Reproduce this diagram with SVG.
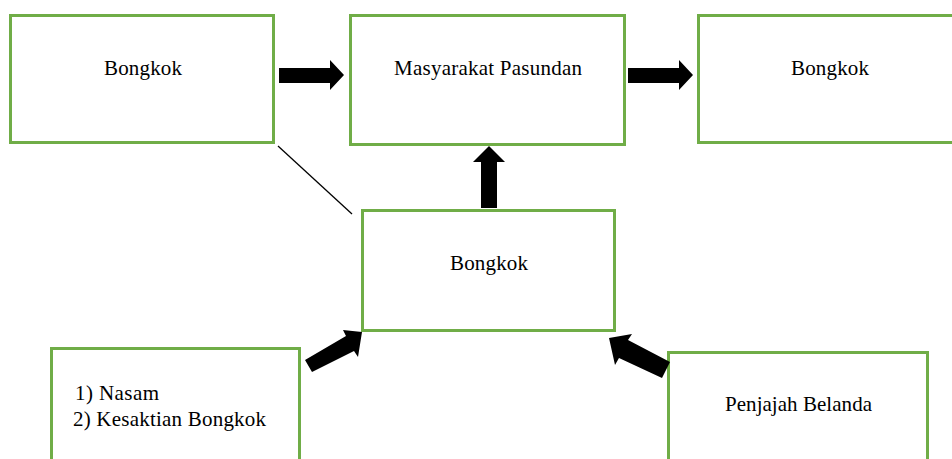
<svg xmlns="http://www.w3.org/2000/svg" width="952" height="459" viewBox="0 0 952 459">
<style>
.box{fill:#fff;stroke:#70AD47;stroke-width:3}
.t{font-family:"Liberation Serif",serif;font-size:21px;fill:#000}
.arr{fill:#000}
</style>
<rect width="952" height="459" fill="#fff"/>
<g id="n1"><rect class="box" x="10.5" y="15.5" width="263" height="127"/><text class="t" x="143" y="75" text-anchor="middle" textLength="78">Bongkok</text></g>
<g id="n2"><rect class="box" x="350.5" y="15.5" width="274" height="129"/><text class="t" x="488" y="75" text-anchor="middle" textLength="188">Masyarakat Pasundan</text></g>
<g id="n3"><rect class="box" x="698.5" y="15.5" width="260" height="127"/><text class="t" x="830" y="75" text-anchor="middle" textLength="78">Bongkok</text></g>
<g id="n4"><rect class="box" x="362.5" y="210.5" width="252" height="120"/><text class="t" x="489" y="270" text-anchor="middle" textLength="78">Bongkok</text></g>
<g id="n5"><rect class="box" x="51.5" y="348.5" width="248" height="120"/><text class="t" x="75" y="400" textLength="84">1) Nasam</text><text class="t" x="73" y="426" textLength="193">2) Kesaktian Bongkok</text></g>
<g id="n6"><rect class="box" x="668.5" y="352.5" width="259" height="120"/><text class="t" x="725" y="411" textLength="147">Penjajah Belanda</text></g>
<g id="connectors">
<polygon class="arr" points="279,68 330,68 330,60 344,75 330,90 330,83 279,83"/>
<polygon class="arr" points="628,68 679,68 679,60 693,75 679,90 679,83 628,83"/>
<polygon class="arr" points="481,208 481,162 473,162 489,146 505,162 497,162 497,208"/>
<polygon class="arr" points="305,360 346,336 343,330 362,332 358,357 354,351 312,372"/>
<polygon class="arr" points="670,362 628,340 632,334 609,338 615,365 619,358 662,378"/>
<line x1="278" y1="146" x2="352" y2="214" stroke="#000" stroke-width="1.3"/>
</g>
</svg>
